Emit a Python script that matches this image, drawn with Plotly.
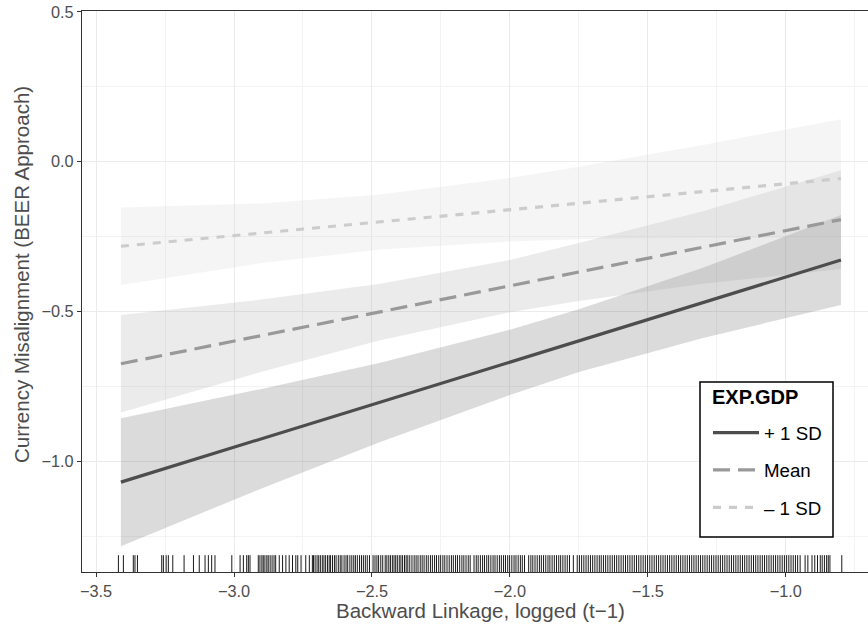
import plotly.graph_objects as go

# ---- data ----
x_grid = [-3.41, -2.90, -2.47, -2.00, -1.75, -1.30, -0.80]

plus_fit = [-1.069, -0.924, -0.803, -0.669, -0.597, -0.471, -0.328]
plus_lo = [-1.283, -1.090, -0.935, -0.778, -0.702, -0.588, -0.478]
plus_hi = [-0.856, -0.758, -0.671, -0.561, -0.492, -0.354, -0.178]

mean_fit = [-0.674, -0.580, -0.501, -0.415, -0.368, -0.286, -0.193]
mean_lo = [-0.837, -0.701, -0.596, -0.502, -0.465, -0.407, -0.358]
mean_hi = [-0.511, -0.460, -0.407, -0.328, -0.271, -0.165, -0.028]

minus_fit = [-0.282, -0.238, -0.201, -0.160, -0.138, -0.099, -0.056]
minus_lo = [-0.411, -0.338, -0.293, -0.266, -0.259, -0.254, -0.254]
minus_hi = [-0.153, -0.139, -0.109, -0.054, -0.017, 0.056, 0.142]

series_names = ["+ 1 SD", "Mean", "\u2013 1 SD"]

rug_x = [
    -3.419, -3.401, -3.365, -3.359, -3.350,
    -3.262, -3.256, -3.246, -3.238, -3.222, -3.181, -3.147, -3.126, -3.105, -3.093, -3.081, -3.069,
    -3.008, -2.978, -2.966, -2.954, -2.948, -2.942,
    -2.912, -2.906, -2.899, -2.894, -2.888, -2.881, -2.876, -2.869, -2.862, -2.855, -2.849, -2.836,
    -2.824, -2.812, -2.800, -2.788, -2.776, -2.769, -2.757, -2.740, -2.727, -2.716, -2.712, -2.706,
    -2.699, -2.693, -2.687, -2.680, -2.674, -2.668, -2.661, -2.655, -2.650, -2.643, -2.636, -2.630,
    -2.622, -2.615, -2.609, -2.601, -2.594, -2.588, -2.580, -2.573, -2.566, -2.560, -2.553, -2.545,
    -2.538, -2.531, -2.524, -2.517, -2.509, -2.496, -2.489, -2.482, -2.476, -2.468, -2.461, -2.452,
    -2.446, -2.439, -2.433, -2.426, -2.420, -2.414, -2.408, -2.401, -2.395, -2.389, -2.382, -2.376,
    -2.370, -2.363, -2.355, -2.347, -2.340, -2.333, -2.325, -2.318, -2.311, -2.303, -2.296, -2.288,
    -2.281, -2.273, -2.266, -2.258, -2.251, -2.243, -2.236, -2.228, -2.220, -2.212, -2.205, -2.197,
    -2.190, -2.182, -2.174, -2.167, -2.159, -2.151, -2.144, -2.130, -2.122, -2.115, -2.107, -2.099,
    -2.092, -2.084, -2.077, -2.069, -2.061, -2.054, -2.046, -2.038, -2.031, -2.023, -2.016, -2.008,
    -2.001, -1.993, -1.985, -1.978, -1.970, -1.962, -1.955, -1.947, -1.932, -1.924, -1.917, -1.909,
    -1.901, -1.893, -1.886, -1.878, -1.870, -1.862, -1.855, -1.847, -1.839, -1.831, -1.823, -1.816,
    -1.808, -1.800, -1.792, -1.784, -1.770, -1.756, -1.748, -1.740, -1.732, -1.724, -1.716, -1.708,
    -1.700, -1.692, -1.684, -1.676, -1.669, -1.661, -1.653, -1.645, -1.637, -1.629, -1.621, -1.613,
    -1.605, -1.597, -1.589, -1.581, -1.573, -1.565, -1.557, -1.549, -1.541, -1.533, -1.525, -1.517,
    -1.509, -1.501, -1.493, -1.485, -1.477, -1.469, -1.461, -1.453, -1.445, -1.437, -1.429, -1.421,
    -1.413, -1.405, -1.397, -1.389, -1.381, -1.373, -1.365, -1.357, -1.349, -1.341, -1.333, -1.325,
    -1.317, -1.309, -1.301, -1.293, -1.285, -1.277, -1.269, -1.261, -1.253, -1.245, -1.237, -1.229,
    -1.221, -1.213, -1.205, -1.197, -1.189, -1.181, -1.173, -1.165, -1.157, -1.149, -1.141, -1.133,
    -1.125, -1.117, -1.109, -1.101, -1.093, -1.085, -1.077, -1.069, -1.061, -1.053, -1.045, -1.037,
    -1.029, -1.021, -1.013, -1.005, -0.997, -0.989, -0.981, -0.973, -0.965, -0.957, -0.948,
    -0.930, -0.920, -0.905, -0.895, -0.885, -0.875, -0.868, -0.860, -0.852, -0.846, -0.840, -0.797,
]

x_ticks = [-3.5, -3.0, -2.5, -2.0, -1.5, -1.0]
y_ticks = [0.5, 0.0, -0.5, -1.0]

x_title = "Backward Linkage, logged (t\u22121)"
y_title = "Currency Misalignment (BEER Approach)"
legend_title = "EXP.GDP"

# ---- styling ----
X_RANGE = [-3.551, -0.702]
Y_RANGE = [-1.369, 0.503]
FONT = "Liberation Sans, Arial, sans-serif"
W, H = 868, 624
ML, MR, MT, MB = 82, 0, 11, 52
PW, PH = W - ML - MR, H - MT - MB


def px_x(p):
    return (p - ML) / PW


def px_y(p):
    return 1 - (p - MT) / PH


line_colors = ["#4d4d4d", "#999999", "#cccccc"]
fill_colors = ["rgba(77,77,77,0.2)", "rgba(153,153,153,0.2)", "rgba(204,204,204,0.2)"]
dashes = ["solid", "17px,8px", "8px,8px"]

fits = [plus_fit, mean_fit, minus_fit]
los = [plus_lo, mean_lo, minus_lo]
his = [plus_hi, mean_hi, minus_hi]

fig = go.Figure()

# ribbons
for i in range(3):
    fig.add_trace(go.Scatter(
        x=x_grid + x_grid[::-1],
        y=his[i] + los[i][::-1],
        fill="toself", fillcolor=fill_colors[i],
        line=dict(width=0), mode="lines",
        showlegend=False, hoverinfo="skip",
    ))

# lines
for i in range(3):
    fig.add_trace(go.Scatter(
        x=x_grid, y=fits[i], mode="lines",
        name=series_names[i], legendgroup=series_names[i],
        line=dict(color=line_colors[i], width=3.2, dash=dashes[i]),
    ))

# rug
rug_len = 0.03 * (Y_RANGE[1] - Y_RANGE[0])
rx, ry = [], []
for v in rug_x:
    rx += [v, v, None]
    ry += [Y_RANGE[0], Y_RANGE[0] + rug_len, None]
fig.add_trace(go.Scatter(
    x=rx, y=ry, mode="lines",
    line=dict(color="rgba(0,0,0,0.9)", width=1),
    showlegend=False, hoverinfo="skip",
))

tick_font = dict(size=16.3, color="#4d4d4d")
axis_common = dict(
    showgrid=True, gridcolor="#ebebeb", gridwidth=1.2,
    minor=dict(dtick=0.25, tick0=0, showgrid=True, gridcolor="#f3f3f3", gridwidth=1),
    ticks="outside", ticklen=4, tickcolor="#333333", tickwidth=1,
    showline=True, linecolor="#333333", linewidth=1.2,
    tickfont=tick_font, zeroline=False, automargin=False,
)

fig.update_layout(
    width=W, height=H,
    margin=dict(l=ML, r=MR, t=MT, b=MB),
    paper_bgcolor="white", plot_bgcolor="white",
    font=dict(family=FONT, color="#4d4d4d"),
    legend=dict(
        x=px_x(708), y=px_y(414), xanchor="left", yanchor="top",
        bgcolor="rgba(0,0,0,0)", borderwidth=0,
        font=dict(size=18.7, color="black"),
        traceorder="grouped", tracegroupgap=10, itemwidth=46,
    ),
    xaxis=dict(
        range=X_RANGE, tickvals=x_ticks,
        ticktext=[f"{v:.1f}".replace("-", "\u2212") for v in x_ticks],
        mirror=True, **axis_common,
    ),
    yaxis=dict(
        range=Y_RANGE, tickvals=y_ticks,
        ticktext=[f"{v:.1f}".replace("-", "\u2212") for v in y_ticks],
        **axis_common,
    ),
    shapes=[
        dict(type="rect", xref="paper", yref="paper",
             x0=px_x(700), x1=px_x(833), y0=px_y(537), y1=px_y(382),
             fillcolor="white", line=dict(color="black", width=1.5), layer="above"),
    ],
    annotations=[
        dict(text=x_title, xref="paper", yref="paper", x=px_x(480), y=0,
             xanchor="center", yanchor="middle", yshift=-38, showarrow=False,
             font=dict(size=20.5, color="#4d4d4d")),
        dict(text=y_title, xref="paper", yref="paper", x=px_x(21), y=px_y(275),
             xanchor="center", yanchor="middle", textangle=-90, showarrow=False,
             font=dict(size=20.5, color="#4d4d4d")),
        dict(text=f"<b>{legend_title}</b>", xref="paper", yref="paper", x=px_x(710), y=px_y(397),
             xanchor="left", yanchor="middle", showarrow=False,
             font=dict(size=20, color="black")),
    ],
)

fig.write_html(
    "out.html",
    config={"displayModeBar": False},
    post_script="document.body.style.margin='0';document.body.style.overflow='hidden';",
)
